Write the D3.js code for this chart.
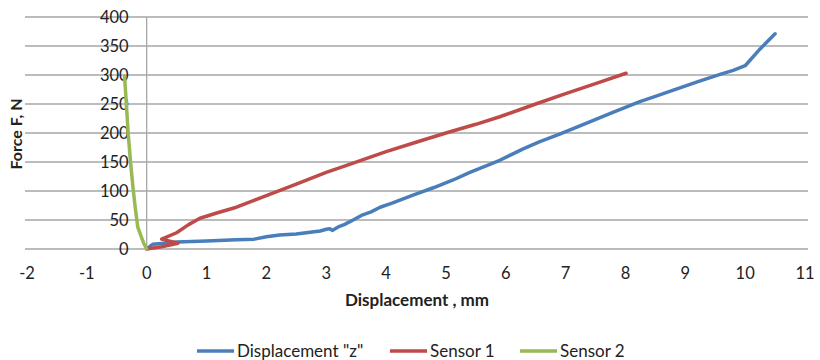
<!DOCTYPE html>
<html><head><meta charset="utf-8">
<script src="https://cdn.jsdelivr.net/npm/d3@7"></script>
<style>body{margin:0;background:#fff;} svg{display:block;font-family:Lato,"Open Sans",sans-serif;}</style>
</head><body><svg id="c" width="820" height="360"></svg>
<script>
const seriesNames = ['Displacement "z"', 'Sensor 1', 'Sensor 2'];
const seriesColors = ['#4a7ebb', '#be4b48', '#98b954'];
const dispX = [0, 0.1, 0.3, 0.5, 1.0, 1.5, 1.8, 2.0, 2.22, 2.5, 2.73, 2.9, 3.0, 3.06, 3.1, 3.2, 3.3, 3.45, 3.61, 3.75, 3.9, 4.1, 4.45, 4.8, 5.12, 5.4, 5.9, 6.3, 6.57, 6.9, 7.3, 7.8, 8.24, 8.5, 8.8, 9.2, 9.58, 9.8, 10.0, 10.25, 10.5];
const dispF = [0, 8, 10, 12, 14, 16, 17, 21, 24, 26, 29, 31, 34, 35, 32, 38, 42, 50, 59, 64, 72, 79, 93, 106, 119, 132, 153, 173, 185, 198, 215, 236, 254, 263, 274, 288, 301, 308, 316, 345, 371];
const s1X = [0, 0.25, 0.52, 0.25, 0.5, 0.7, 0.89, 1.17, 1.5, 2.0, 2.5, 3.0, 3.39, 4.0, 4.5, 5.0, 5.5, 5.9, 6.5, 7.0, 7.5, 8.01];
const s1F = [0, 4, 10, 17, 28, 42, 53, 62, 72, 92, 112, 132, 146, 168, 184, 200, 215, 228, 250, 268, 285, 303];
const s2X = [0, -0.05, -0.09, -0.15, -0.19, -0.23, -0.27, -0.31, -0.34, -0.37];
const s2F = [0, 10, 21, 38, 70, 107, 150, 200, 250, 298];
const xTicks = [-2,-1,0,1,2,3,4,5,6,7,8,9,10,11];
const yTicks = [0,50,100,150,200,250,300,350,400];

const svg = d3.select('#c');
const x = d3.scaleLinear().domain([-2, 11]).range([27, 805]);
const y = d3.scaleLinear().domain([0, 400]).range([249, 17]);

// gridlines
svg.append('g').selectAll('line').data(yTicks).join('line')
  .attr('x1', x(-2) - 2).attr('x2', x(11) + 3)
  .attr('y1', d => y(d)).attr('y2', d => y(d))
  .attr('stroke', '#a6a6a6').attr('stroke-width', 1.3);
// vertical axis line at x=0
svg.append('line').attr('x1', x(0)).attr('x2', x(0)).attr('y1', y(400)).attr('y2', y(0))
  .attr('stroke', '#a6a6a6').attr('stroke-width', 1.3);

// y tick labels
svg.append('g').selectAll('text').data(yTicks).join('text')
  .attr('x', x(0) - 18).attr('y', d => y(d)).attr('dy', '0.35em')
  .attr('text-anchor', 'end').attr('font-size', 16.5).attr('fill', '#222')
  .text(d => d);
// x tick labels
svg.append('g').selectAll('text').data(xTicks).join('text')
  .attr('x', d => x(d)).attr('y', 273).attr('dy', '0.35em')
  .attr('text-anchor', 'middle').attr('font-size', 16.5).attr('fill', '#222')
  .text(d => d);

// titles
svg.append('text').attr('x', 417).attr('y', 300).attr('dy', '0.35em').attr('text-anchor', 'middle')
  .attr('font-size', 17).attr('font-weight', 'bold').attr('fill', '#222').text('Displacement , mm');
svg.append('text').attr('transform', 'translate(16,134) rotate(-90)').attr('dy', '0.35em').attr('text-anchor', 'middle')
  .attr('font-size', 16).attr('font-weight', 'bold').attr('fill', '#222').text('Force F, N');

const line = d3.line().x(d => x(d[0])).y(d => y(d[1]));
const series = [
  d3.zip(dispX, dispF),
  d3.zip(s1X, s1F),
  d3.zip(s2X, s2F)
];
series.forEach((s, i) => {
  svg.append('path').datum(s).attr('d', line).attr('fill', 'none')
    .attr('stroke', seriesColors[i]).attr('stroke-width', 3.5)
    .attr('stroke-linejoin', 'round').attr('stroke-linecap', 'round');
});

// legend
const legX = [197, 390, 520];
const lg = svg.append('g');
seriesNames.forEach((n, i) => {
  lg.append('line').attr('x1', legX[i]).attr('x2', legX[i] + 37).attr('y1', 351).attr('y2', 351)
    .attr('stroke', seriesColors[i]).attr('stroke-width', 3.5);
  lg.append('text').attr('x', legX[i] + 40).attr('y', 351).attr('dy', '0.35em')
    .attr('font-size', 17).attr('fill', '#222').text(n);
});
</script></body></html>
